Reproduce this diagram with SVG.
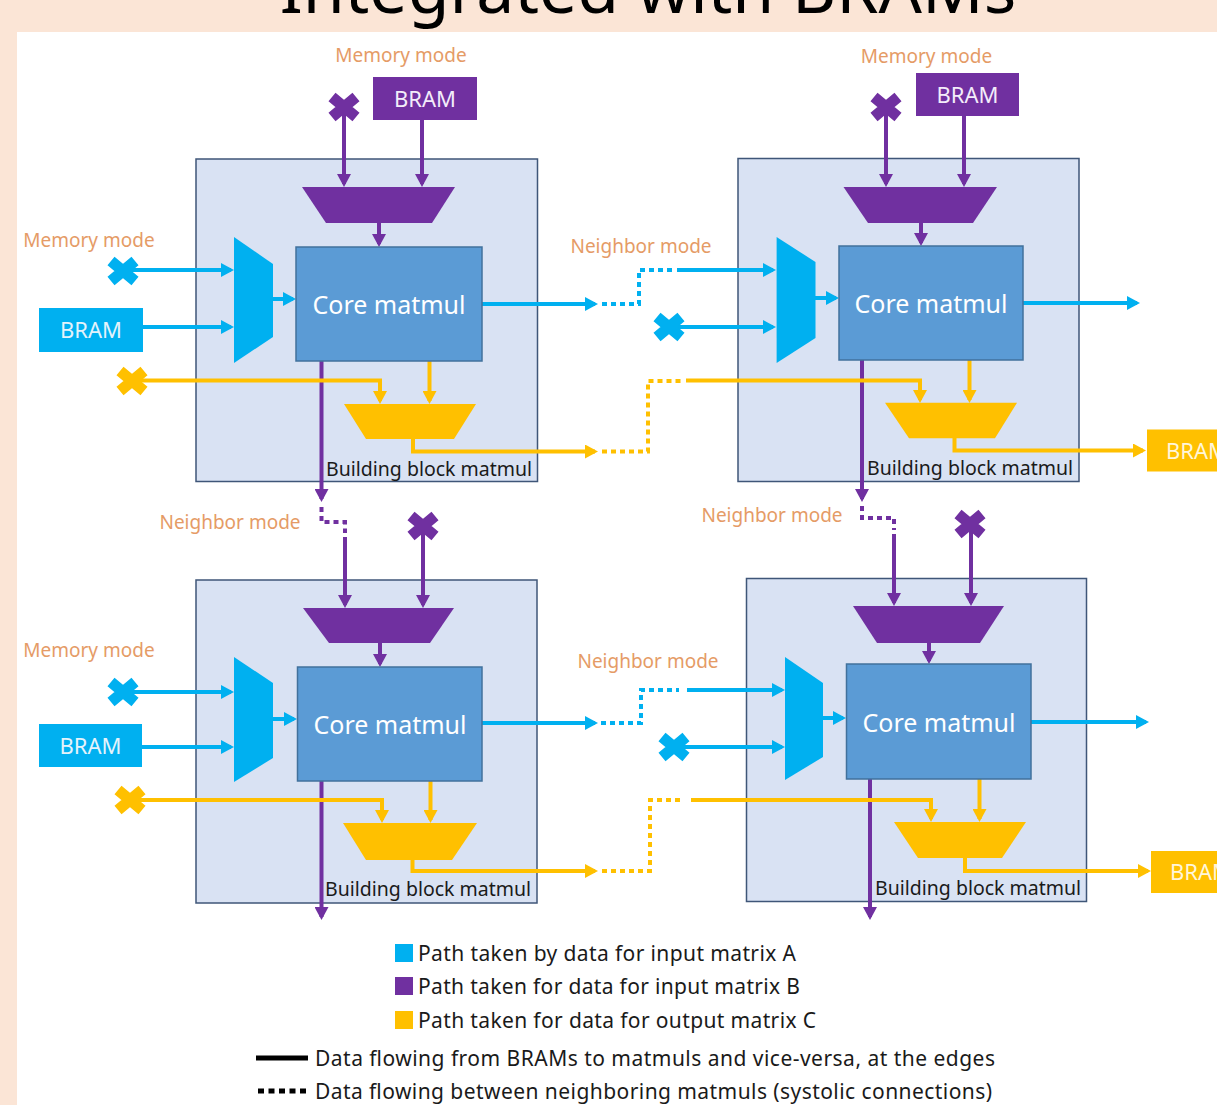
<svg xmlns="http://www.w3.org/2000/svg" width="1217" height="1105" viewBox="0 0 1217 1105">
<style>
text{font-family:"Noto Sans","Liberation Sans",sans-serif}
.box{fill:#D9E2F3;stroke:#3F5678;stroke-width:1.5}
.core{fill:#5B9BD5;stroke:#41719C;stroke-width:1.5}
.coret{fill:#FFFFFF;font-size:25px;text-anchor:middle}
.bbt{fill:#1A1A1A;font-size:19.5px}
.lbl{fill:#E59B66;font-size:19px;text-anchor:middle}
.bram{font-size:22px;text-anchor:middle}
.bramL{font-size:22px;text-anchor:start}
.fa{fill:#00B0F0}.fb{fill:#7030A0}.fc{fill:#FFC000}
.w{fill:none;stroke-width:4}
.a{stroke:#00B0F0}.b{stroke:#7030A0}.c{stroke:#FFC000}
.dot{stroke-dasharray:5 4}
.ma{marker-end:url(#mA)}.mb{marker-end:url(#mB)}.mc{marker-end:url(#mC)}
.leg{fill:#1A1A1A;font-size:21px}
</style>
<defs>
<marker id="mA" viewBox="0 0 13 14" refX="10" refY="7" markerWidth="13" markerHeight="14" markerUnits="userSpaceOnUse" orient="auto"><path d="M0,0 L13,7 L0,14 z" fill="#00B0F0"/></marker>
<marker id="mB" viewBox="0 0 13 14" refX="10" refY="7" markerWidth="13" markerHeight="14" markerUnits="userSpaceOnUse" orient="auto"><path d="M0,0 L13,7 L0,14 z" fill="#7030A0"/></marker>
<marker id="mC" viewBox="0 0 13 14" refX="10" refY="7" markerWidth="13" markerHeight="14" markerUnits="userSpaceOnUse" orient="auto"><path d="M0,0 L13,7 L0,14 z" fill="#FFC000"/></marker>
<path id="cross" d="M-12,-10 L12,10 M12,-10 L-12,10" fill="none" stroke-width="11"/>
</defs>

<rect x="0" y="0" width="1217" height="1105" fill="#FBE5D6"/>
<rect x="17" y="32" width="1200" height="1073" fill="#FFFFFF"/>
<text x="648" y="13" font-size="68" text-anchor="middle" fill="#000000">Integrated with BRAMs</text>

<!-- building blocks -->
<g id="block-tl"><rect class="box" x="196" y="159" width="341.5" height="322.5"/></g>
<g id="block-tr"><rect class="box" x="738" y="158.5" width="341" height="323"/></g>
<g id="block-bl"><rect class="box" x="196" y="580" width="341" height="323"/></g>
<g id="block-br"><rect class="box" x="746.5" y="578.5" width="340" height="323"/></g>

<!-- connectors -->
<g id="connectors">
<!-- matrix A -->
<path class="w a ma" d="M123,270 H231"/>
<path class="w a ma" d="M143,327 H231"/>
<path class="w a ma" d="M273,299 H293"/>
<path class="w a ma" d="M482,304 H595"/>
<path class="w a dot" d="M602,304 H639 V270 H674"/>
<path class="w a ma" d="M677,270 H773"/>
<path class="w a ma" d="M669,327 H773"/>
<path class="w a ma" d="M815,298 H836"/>
<path class="w a ma" d="M1023,303 H1137"/>
<path class="w a ma" d="M123,692 H231"/>
<path class="w a ma" d="M142,747 H231"/>
<path class="w a ma" d="M273,719 H294"/>
<path class="w a ma" d="M482,723 H595"/>
<path class="w a dot" d="M601,723 H641 V690 H679"/>
<path class="w a ma" d="M687,690 H782"/>
<path class="w a ma" d="M674,747 H782"/>
<path class="w a ma" d="M823,718 H843"/>
<path class="w a ma" d="M1031,722 H1146"/>
<!-- matrix B -->
<path class="w b mb" d="M344,107 V184"/>
<path class="w b mb" d="M422,120 V184"/>
<path class="w b mb" d="M379,223 V244"/>
<path class="w b mb" d="M321.5,361 V499"/>
<path class="w b dot" d="M321.5,507 V522 H345 V533"/>
<path class="w b mb" d="M345,537 V605"/>
<path class="w b mb" d="M423,526 V605"/>
<path class="w b mb" d="M380,643 V664"/>
<path class="w b mb" d="M321.5,781 V917"/>
<path class="w b mb" d="M886,107 V184"/>
<path class="w b mb" d="M964,116 V184"/>
<path class="w b mb" d="M921,223 V243"/>
<path class="w b mb" d="M862,360 V499"/>
<path class="w b dot" d="M862,506 V518 H894 V530"/>
<path class="w b mb" d="M894,534 V603"/>
<path class="w b mb" d="M971,524 V603"/>
<path class="w b mb" d="M929,643 V661"/>
<path class="w b mb" d="M870,779 V917"/>
<!-- matrix C -->
<path class="w c mc" d="M132,380.5 H380 V401"/>
<path class="w c mc" d="M429.5,361 V401"/>
<path class="w c mc" d="M413,439 V451.5 H595"/>
<path class="w c dot" d="M602,451.5 H648 V381 H682"/>
<path class="w c mc" d="M686,380.5 H920 V400"/>
<path class="w c mc" d="M969.5,360 V400"/>
<path class="w c mc" d="M954.5,438 V450.5 H1143"/>
<path class="w c mc" d="M130,800 H382 V820"/>
<path class="w c mc" d="M430.5,781 V820"/>
<path class="w c mc" d="M412.5,860 V871 H595"/>
<path class="w c dot" d="M602,871 H650 V800 H683"/>
<path class="w c mc" d="M691,800 H931 V819"/>
<path class="w c mc" d="M979.5,779 V819"/>
<path class="w c mc" d="M965,858 V871 H1148"/>
</g>

<!-- TL block internals -->
<g id="muxb-tl"><polygon class="fb" points="302,187 455,187 432,223 326,223"/></g>
<g id="muxa-tl"><polygon class="fa" points="234,237 273,264 273,337 234,363"/></g>
<g id="core-tl"><rect class="core" x="296" y="247" width="186" height="114"/><text class="coret" x="389" y="314">Core matmul</text></g>
<g id="muxc-tl"><polygon class="fc" points="344,404 476,404 454,439 366,439"/></g>
<g id="label-tl"><text class="bbt" x="326" y="476">Building block matmul</text></g>

<!-- TR block internals -->
<g id="muxb-tr"><polygon class="fb" points="843.5,187 997,187 973,223 868,223"/></g>
<g id="muxa-tr"><polygon class="fa" points="776.6,237 815.5,262 815.5,338 776.6,363"/></g>
<g id="core-tr"><rect class="core" x="839" y="246" width="184" height="114"/><text class="coret" x="931" y="313">Core matmul</text></g>
<g id="muxc-tr"><polygon class="fc" points="885,402.7 1017,402.7 995,438.3 909,438.3"/></g>
<g id="label-tr"><text class="bbt" x="867" y="475">Building block matmul</text></g>

<!-- BL block internals -->
<g id="muxb-bl"><polygon class="fb" points="303,608 454,608 430,643 329,643"/></g>
<g id="muxa-bl"><polygon class="fa" points="234,657 273,683 273,758 234,782"/></g>
<g id="core-bl"><rect class="core" x="297.5" y="667" width="184.5" height="114"/><text class="coret" x="390" y="734">Core matmul</text></g>
<g id="muxc-bl"><polygon class="fc" points="343,823 477,823 452,860 366,860"/></g>
<g id="label-bl"><text class="bbt" x="325" y="896">Building block matmul</text></g>

<!-- BR block internals -->
<g id="muxb-br"><polygon class="fb" points="853,606 1004,606 980,643 877,643"/></g>
<g id="muxa-br"><polygon class="fa" points="785,657 823,683 823,757 785,780"/></g>
<g id="core-br"><rect class="core" x="846.5" y="664" width="184.5" height="115"/><text class="coret" x="939" y="732">Core matmul</text></g>
<g id="muxc-br"><polygon class="fc" points="894,822 1026,822 1002,858 918,858"/></g>
<g id="label-br"><text class="bbt" x="875" y="895">Building block matmul</text></g>

<!-- BRAMs -->
<g id="bram-b-tl"><rect class="fb" x="373" y="77" width="104" height="43"/><text class="bram" x="425" y="106.5" fill="#F3ECFA">BRAM</text></g>
<g id="bram-b-tr"><rect class="fb" x="916" y="73" width="103" height="43"/><text class="bram" x="967.5" y="102.5" fill="#F3ECFA">BRAM</text></g>
<g id="bram-a-tl"><rect class="fa" x="39" y="308" width="104" height="44"/><text class="bram" x="91" y="338" fill="#E4F3FB">BRAM</text></g>
<g id="bram-a-bl"><rect class="fa" x="39" y="724" width="103" height="43"/><text class="bram" x="90.5" y="753.5" fill="#E4F3FB">BRAM</text></g>
<g id="bram-c-tr"><rect class="fc" x="1147" y="429.5" width="80" height="42"/><text class="bramL" x="1166" y="458.5" fill="#FFF6DA">BRAM</text></g>
<g id="bram-c-br"><rect class="fc" x="1151" y="851" width="76" height="42"/><text class="bramL" x="1170" y="880" fill="#FFF6DA">BRAM</text></g>

<!-- disconnected inputs -->
<g id="x-a-tl"><use href="#cross" x="123" y="271" stroke="#00B0F0"/></g>
<g id="x-c-tl"><use href="#cross" x="132" y="381" stroke="#FFC000"/></g>
<g id="x-b-tl"><use href="#cross" x="344" y="107" stroke="#7030A0"/></g>
<g id="x-b-tr"><use href="#cross" x="886" y="107" stroke="#7030A0"/></g>
<g id="x-a-tr"><use href="#cross" x="669" y="327" stroke="#00B0F0"/></g>
<g id="x-a-bl"><use href="#cross" x="123" y="692" stroke="#00B0F0"/></g>
<g id="x-c-bl"><use href="#cross" x="130" y="800" stroke="#FFC000"/></g>
<g id="x-b-bl"><use href="#cross" x="423" y="526" stroke="#7030A0"/></g>
<g id="x-b-br"><use href="#cross" x="970" y="524" stroke="#7030A0"/></g>
<g id="x-a-br"><use href="#cross" x="674" y="747" stroke="#00B0F0"/></g>

<!-- mode labels -->
<g id="mode-labels">
<text class="lbl" x="401" y="62">Memory mode</text>
<text class="lbl" x="926.5" y="63">Memory mode</text>
<text class="lbl" x="89" y="247">Memory mode</text>
<text class="lbl" x="89" y="657">Memory mode</text>
<text class="lbl" x="641" y="253">Neighbor mode</text>
<text class="lbl" x="230" y="529">Neighbor mode</text>
<text class="lbl" x="772" y="522">Neighbor mode</text>
<text class="lbl" x="648" y="668">Neighbor mode</text>
</g>

<!-- legend -->
<g id="legend">
<rect x="395" y="944" width="18" height="18" fill="#00B0F0"/>
<text class="leg" x="418" y="961" textLength="378">Path taken by data for input matrix A</text>
<rect x="395" y="977" width="18" height="18" fill="#7030A0"/>
<text class="leg" x="418" y="994" textLength="382">Path taken for data for input matrix B</text>
<rect x="395" y="1011" width="18" height="18" fill="#FFC000"/>
<text class="leg" x="418" y="1028" textLength="398">Path taken for data for output matrix C</text>
<line x1="256" y1="1058" x2="308" y2="1058" stroke="#000000" stroke-width="5"/>
<text class="leg" x="315" y="1066" textLength="680">Data flowing from BRAMs to matmuls and vice-versa, at the edges</text>
<line x1="258" y1="1091" x2="306" y2="1091" stroke="#000000" stroke-width="5" stroke-dasharray="6 4.5"/>
<text class="leg" x="315" y="1099" textLength="677">Data flowing between neighboring matmuls (systolic connections)</text>
</g>
</svg>
